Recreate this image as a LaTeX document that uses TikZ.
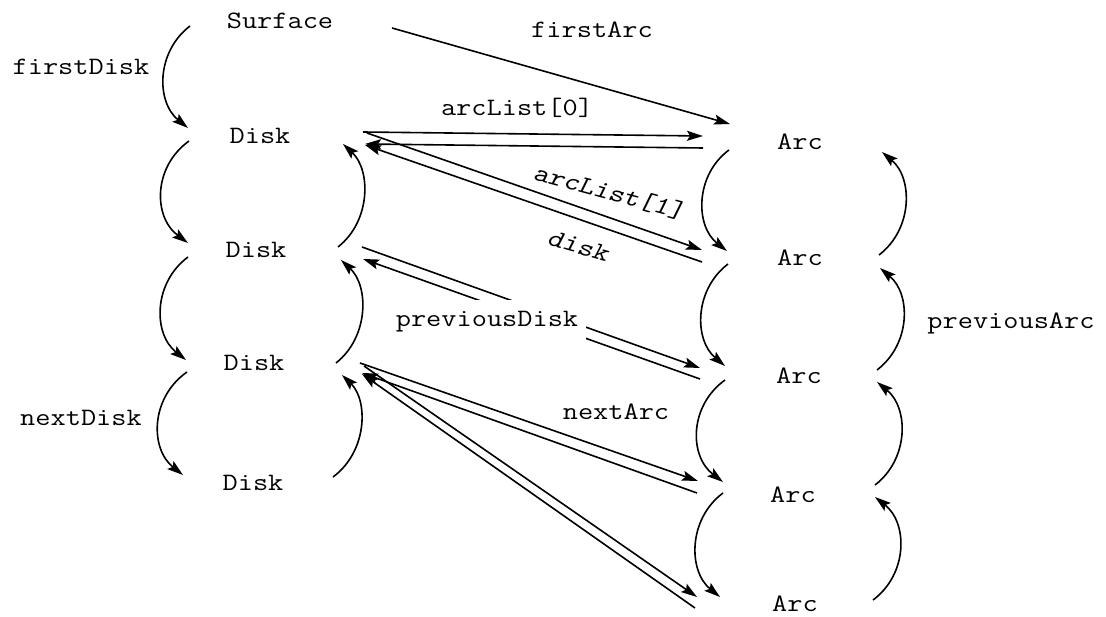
\documentclass[tikz,border=0pt]{standalone}
\usetikzlibrary{arrows.meta}
\newcommand{\stx}[1]{\scalebox{1.18}[1]{#1}}
\begin{document}
\begin{tikzpicture}[x=1pt,y=-1pt,
  lbl/.style={font=\fontsize{25}{30}\selectfont\ttfamily, inner sep=0pt},
  slbl/.style={font=\fontsize{25}{30}\selectfont\ttfamily\slshape, inner sep=0pt},
  ptr/.style={line width=1.6pt, -{Stealth[length=16pt,width=10pt,inset=3pt]}},
  ln/.style={line width=1.6pt}]
\useasboundingbox (0,0) rectangle (1106,617);
% text nodes
\node[lbl] (surf) at (280,21) {\stx{Surface}};
\node[lbl] (fd) at (81,67) {\stx{firstDisk}};
\node[lbl] (d1) at (260,136) {\stx{Disk}};
\node[lbl] (d2) at (256,250) {\stx{Disk}};
\node[lbl] (d3) at (254,363) {\stx{Disk}};
\node[lbl] (d4) at (253,483) {\stx{Disk}};
\node[lbl] (nd) at (81,418) {\stx{nextDisk}};
\node[lbl] (a1) at (800,142) {\stx{Arc}};
\node[lbl] (a2) at (800,258) {\stx{Arc}};
\node[lbl] (a3) at (799,376) {\stx{Arc}};
\node[lbl] (a4) at (793,495) {\stx{Arc}};
\node[lbl] (a5) at (795,604) {\stx{Arc}};
\node[lbl] (pa) at (1011,323) {\stx{previousArc}};
\node[lbl] (fa) at (592,30) {\stx{firstArc}};
\node[lbl] (al0) at (517,108) {\stx{arcList[0]}};
\node[slbl, rotate=-15] (al1) at (609,192) {\stx{arcList[1]}};
\node[slbl, rotate=-16] (dk) at (578,246) {\stx{disk}};
\node[lbl] (na) at (616,412) {\stx{nextArc}};
% connector end points
\coordinate (L1s) at (190,26);  \coordinate (L1e) at (188,128);
\coordinate (L2s) at (189,141); \coordinate (L2e) at (188,243);
\coordinate (L3s) at (188,257); \coordinate (L3e) at (186,360);
\coordinate (L4s) at (187,372); \coordinate (L4e) at (183,475);
\coordinate (P1s) at (338,247); \coordinate (P1e) at (343,144);
\coordinate (P2s) at (336,363); \coordinate (P2e) at (341,260);
\coordinate (P3s) at (333,477); \coordinate (P3e) at (342,375);
\coordinate (N1s) at (729,150); \coordinate (N1e) at (727,251);
\coordinate (N2s) at (728,264); \coordinate (N2e) at (725,366);
\coordinate (N3s) at (725,380); \coordinate (N3e) at (723,482);
\coordinate (N4s) at (723,493); \coordinate (N4e) at (720,597);
\coordinate (R1s) at (879,255); \coordinate (R1e) at (882,152);
\coordinate (R2s) at (877,370); \coordinate (R2e) at (880,268);
\coordinate (R3s) at (875,485); \coordinate (R3e) at (877,382);
\coordinate (R4s) at (873,600); \coordinate (R4e) at (875,497);
\coordinate (sF) at (392,28);   \coordinate (aF) at (730,124);
\coordinate (d1o) at (363,132); \coordinate (a1i) at (703,136);
\coordinate (a1o) at (703,148); \coordinate (d1i) at (365,144);
\coordinate (d1o2) at (367,133); \coordinate (a2i) at (702,250);
\coordinate (a2o) at (702,262); \coordinate (d1i2) at (365,145);
\coordinate (d2o) at (362,247); \coordinate (a3i) at (700,368);
\coordinate (a3o) at (700,379); \coordinate (d2i) at (363,259);
\coordinate (d3o) at (360,363); \coordinate (a4i) at (698,481);
\coordinate (a4o) at (697,493); \coordinate (d3i) at (362,373);
\coordinate (d3o2) at (364,366); \coordinate (a5i) at (697,597);
\coordinate (a5o) at (695,608); \coordinate (d3i2) at (362,374);
% nextDisk chain
\draw[ptr] (L1s) .. controls (156,52) and (156,102) .. (L1e);
\draw[ptr] (L2s) .. controls (153,167) and (153,217) .. (L2e);
\draw[ptr] (L3s) .. controls (153,283) and (153,334) .. (L3e);
\draw[ptr] (L4s) .. controls (150,398) and (150,449) .. (L4e);
% previousDisk chain
\draw[ptr] (P1s) .. controls (371,221) and (371,170) .. (P1e);
\draw[ptr] (P2s) .. controls (369,337) and (369,286) .. (P2e);
\draw[ptr] (P3s) .. controls (368,451) and (368,400) .. (P3e);
% nextArc chain
\draw[ptr] (N1s) .. controls (695,175) and (695,226) .. (N1e);
\draw[ptr] (N2s) .. controls (694,290) and (694,340) .. (N2e);
\draw[ptr] (N3s) .. controls (689,406) and (689,456) .. (N3e);
\draw[ptr] (N4s) .. controls (688,519) and (688,571) .. (N4e);
% previousArc chain
\draw[ptr] (R1s) .. controls (913,229) and (913,178) .. (R1e);
\draw[ptr] (R2s) .. controls (911,344) and (911,294) .. (R2e);
\draw[ptr] (R3s) .. controls (909,459) and (909,408) .. (R3e);
\draw[ptr] (R4s) .. controls (908,574) and (908,523) .. (R4e);
% straight pointers
\draw[ptr] (sF) -- (aF);
\draw[ptr] (d1o) -- (a1i);
\draw[ptr] (a1o) -- (d1i);
\draw[ptr] (d1o2) -- (a2i);
\draw[ptr] (a2o) -- (d1i2);
\draw[ptr] (d2o) -- (a3i);
\draw[ptr] (a3o) -- (d2i);
\draw[ptr] (d3o) -- (a4i);
\draw[ptr] (a4o) -- (d3i);
\draw[ptr] (d3o2) -- (a5i);
\draw[ptr] (a5o) -- (d3i2);
% label that covers the pointers
\node[lbl, fill=white, minimum width=198pt, minimum height=44pt] (pd) at (487,322) {\stx{previousDisk}};
\end{tikzpicture}
\end{document}
